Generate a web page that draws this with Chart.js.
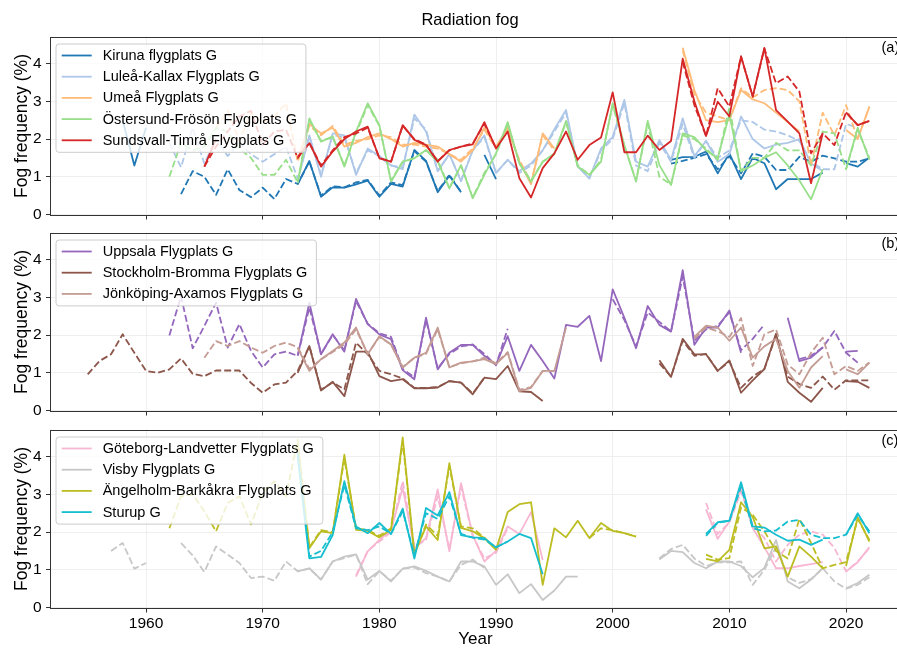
<!DOCTYPE html>
<html>
<head>
<meta charset="utf-8">
<title>Radiation fog</title>
<script src="https://cdn.jsdelivr.net/npm/chart.js@4.4.1/dist/chart.umd.min.js"></script>
<style>
  html, body { margin: 0; padding: 0; background: #fff; overflow: hidden; }
  #wrap { position: relative; width: 897px; height: 651px; overflow: hidden; }
  #wrap canvas { position: absolute; left: 0; }
</style>
</head>
<body>
<div id="wrap">
  <canvas id="fogA" width="905" height="221" style="top:0px"></canvas>
  <canvas id="fogB" width="905" height="200" style="top:217px"></canvas>
  <canvas id="fogC" width="905" height="237" style="top:414px"></canvas>
</div>
<script>
// axis ticks
const yearTicks = [1960, 1970, 1980, 1990, 2000, 2010, 2020];
const fogTicks = [0, 1, 2, 3, 4];

// each station: runs of [first year, yearly values]; solid and dashed series
// --- northern stations (a)
const kiruna = [
  [1958, [2.5, 1.3, 2.3]],
  [1973, [0.8, 1.42, 0.47, 0.72, 0.71, 0.8, 0.9, 0.47, 0.81, 0.74, 1.71, 1.42, 0.59, 1.03, 0.59]],
  [1989, [1.58, 0.94]],
  [2005, [1.45, 1.52, 1.53, 1.67, 1.09, 1.62, 0.94, 1.5, 1.36, 0.67, 0.94, 0.94, 0.94, 1.11]],
  [2020, [1.36, 1.27, 1.51]]
];
const kirunaDash = [
  [1963, [0.54, 1.15, 1.0, 0.52, 1.2, 0.65, 0.46, 0.71, 0.41, 0.94, 0.81, 1.4, 0.5, 0.75, 0.72, 0.85, 0.92, 0.5, 0.85, 0.78, 1.68, 1.4, 0.62, 1.05, 0.6]],
  [2005, [1.35, 1.42, 1.5, 1.6, 1.2, 1.55, 1.09, 1.62, 1.53, 1.18, 1.18, 1.53, 1.4, 1.56, 1.49, 1.4, 1.4, 1.49]]
];
const lulea = [
  [1973, [0.9, 2.1, 1.0, 2.15, 2.1, 1.05, 1.75, 1.55, 1.3, 1.2, 2.65, 2.2, 1.15, 1.6, 0.88, 1.7, 2.1,
          1.1, 1.45, 1.15, 1.35, 1.7, 2.26, 2.77, 1.27, 0.96, 1.75, 2.06, 3.04, 1.4, 1.27, 1.97, 1.45, 2.55,
          1.55, 1.95, 1.4, 1.6, 2.6, 2.0, 1.75, 1.85, 1.9, 2.0, 1.35, 1.15]]
];
const luleaDash = [
  [1962, [1.9, 1.25, 2.3, 1.35, 2.0, 1.55, 1.9, 1.6, 1.4, 1.6, 1.8,
          0.95, 2.05, 1.05, 2.1, 2.05, 1.1, 1.7, 1.55, 1.3, 1.25, 2.55, 2.25, 1.15, 1.6, 0.9, 1.7, 2.05,
          1.1, 1.45, 1.1, 1.3, 1.7, 2.2, 2.7, 1.3, 0.95, 1.7, 2.0, 2.95, 1.3, 1.15, 1.9, 1.4, 2.4,
          1.5, 1.95, 1.5, 1.7, 2.5, 2.45, 2.25, 2.2, 2.1, 1.95, 1.4, 1.2, 1.2, 2.4, 2.3]]
];
const umea = [
  [1973, [1.45, 2.4, 2.15, 2.3, 1.8, 1.9, 2.05, 2.15, 2.0, 1.8, 1.9, 1.85, 1.8, 1.6, 1.4, 1.7, 2.3,
          1.8, 2.3, 1.4, 0.8, 2.15, 1.75]],
  [2006, [4.42, 3.3, 2.5, 2.45, 2.5, 3.3, 3.05, 2.95, 2.7, 2.45, 2.2]],
  [2020, [2.24, 2.0, 2.86]]
];
const umeaDash = [
  [1966, [2.3, 2.75, 1.95, 2.7, 2.45, 2.6, 2.95,
          1.4, 2.35, 2.1, 2.35, 1.85, 1.95, 2.0, 2.1, 2.05, 1.85, 1.85, 1.8, 1.75, 1.6, 1.45, 1.75, 2.25,
          1.75, 2.25, 1.45, 0.85, 2.1, 1.7]],
  [2006, [4.35, 3.2, 2.7, 2.6, 2.5, 3.35, 3.1, 3.3, 3.35, 3.3, 3.0, 1.3, 2.7, 2.1, 2.9, 2.0, 2.86]]
];
const ostersund = [
  [1973, [0.83, 2.55, 1.93, 2.07, 1.27, 2.2, 2.95, 2.37, 0.87, 1.4, 1.49, 1.71, 1.4, 0.69, 1.31, 0.43, 1.05,
          1.62, 2.45, 1.35, 0.87, 1.4, 1.62, 2.48, 1.27, 1.05, 1.4, 2.95, 1.84, 0.87, 2.48, 1.31, 0.78, 2.15,
          2.05, 1.7, 1.5, 2.65, 1.15, 1.3, 1.5, 1.65, 1.3, 0.9, 0.4, 1.2]],
  [2020, [1.2, 2.3, 1.45]]
];
const ostersundDash = [
  [1962, [1.0, 1.9, 1.7, 1.8, 2.3, 2.2, 1.75, 1.5, 1.05, 1.05, 1.45,
          0.85, 2.5, 1.95, 2.05, 1.3, 2.15, 2.9, 2.35, 0.9, 1.4, 1.5, 1.7, 1.45, 0.7, 1.3, 0.45, 1.1,
          1.6, 2.4, 1.35, 0.9, 1.4, 1.6, 2.45, 1.3, 1.05, 1.45, 2.9, 1.8, 0.9, 2.4, 1.0, 0.8, 2.1,
          2.0, 1.75, 1.45, 2.85, 1.15, 1.5, 1.5, 1.9, 1.7, 1.7, 1.3, 2.2, 2.15, 1.2, 2.25, 1.5]]
];
const sundsvall = [
  [1965, [1.27, 2.0]],
  [1973, [1.53, 1.89, 1.27, 1.67, 2.0, 2.2, 2.33, 1.49, 1.4, 2.37, 1.98, 1.84, 1.4, 1.71, 1.8, 1.86, 2.45,
          1.75, 2.2, 0.96, 0.45, 1.23, 1.62, 2.2, 1.45, 1.84, 2.04, 3.24, 1.65, 1.65, 2.09, 1.71, 1.95, 4.13,
          3.0, 2.08, 2.99, 2.6, 4.19, 3.13, 4.42, 2.77, 2.46, 2.15, 0.83, 2.15]],
  [2020, [2.71, 2.37, 2.48]]
];
const sundsvallDash = [
  [1965, [1.27, 1.8, 2.2, 2.6, 2.75, 1.85, 2.2, 2.25,
          1.5, 1.9, 1.3, 1.7, 2.05, 2.15, 2.3, 1.5, 1.4, 2.35, 2.0, 1.85, 1.42, 1.7, 1.8, 1.88, 2.4, 1.75]],
  [2006, [4.05, 2.9, 2.08, 3.35, 2.86, 4.19, 3.13, 4.4, 3.48, 3.66, 3.26, 1.62, 2.15, 1.84, 2.71, 2.37, 2.48]]
];

// --- central stations (b)
const uppsala = [
  [1973, [1.45, 2.86, 1.49, 2.02, 1.56, 2.96, 2.29, 2.02, 1.89, 1.07, 0.83, 2.46, 1.09, 1.53, 1.74, 1.74, 1.45,
          1.21, 1.97, 1.05, 1.74, 1.31, 0.85, 2.27, 2.22, 2.51, 1.31, 3.21, 2.46, 1.65, 2.77, 2.27, 2.09, 3.72,
          1.74, 2.2, 2.2, 2.65, 1.53]],
  [2015, [2.46, 1.31, 1.4, 1.67]],
  [2020, [1.56, 1.58]]
];
const uppsalaDash = [
  [1962, [1.99, 3.03, 1.65, 2.24, 2.86, 1.67, 2.29, 1.58, 1.14, 1.49, 1.56,
          1.45, 2.73, 1.5, 2.0, 1.6, 2.9, 2.3, 2.05, 1.95, 1.1, 0.88, 2.4, 1.12, 1.5, 1.7, 1.75, 1.5,
          1.2, 2.17]],
  [2000, [2.95, 2.4, 1.7, 2.6, 2.35, 2.1, 3.55, 1.85, 2.15, 2.25, 2.6, 1.6, 1.9, 2.28]],
  [2016, [1.36, 1.45, 1.67, 2.11, 1.53, 1.27]]
];
const bromma = [
  [1973, [1.0, 1.71, 0.53, 0.76, 0.38, 1.56, 1.56, 0.91, 0.78, 0.83, 0.59, 0.59, 0.61, 0.78, 0.74, 0.43, 0.87,
          0.83, 1.18, 0.51, 0.49, 0.25]],
  [2004, [1.33, 0.89, 1.9, 1.49, 1.49, 1.05, 1.33, 0.47, 0.8, 1.1, 2.04, 0.76, 0.47, 0.23, 0.6]],
  [2020, [0.78, 0.76, 0.6]]
];
const brommaDash = [
  [1955, [0.96, 1.31, 1.49, 2.02, 1.53, 1.05, 1.0, 1.09, 1.38, 0.97, 0.91, 1.06, 1.06, 1.06, 0.73, 0.47, 0.69, 0.74,
          1.05, 1.71, 0.55, 0.74, 0.56, 1.8, 1.49, 1.05, 0.96, 0.85, 0.6, 0.6, 0.62, 0.78, 0.74, 0.45, 0.87]],
  [2004, [1.25, 0.9, 1.85, 1.45, 1.5, 1.05, 1.3, 0.6, 0.9, 1.1, 2.0, 0.9, 0.7, 0.6, 0.9, 0.55, 0.8, 0.8, 0.8]]
];
const jonkoping = [
  [1973, [1.65, 1.05, 1.36, 1.58, 1.8, 2.2, 1.49, 1.97, 1.75, 1.14, 1.4, 1.53, 2.2, 1.14, 1.27, 1.3, 1.36,
          1.23, 1.53, 0.51, 0.6, 1.05, 1.05, 2.2]],
  [2007, [1.95, 2.25, 2.2, 1.85, 2.2, 1.4, 1.7, 1.9, 1.05, 0.6, 1.14, 1.44]],
  [2020, [1.09, 0.96, 1.27]]
];
const jonkopingDash = [
  [1965, [1.4, 1.84, 1.71, 1.84, 1.67, 1.53, 1.71, 1.8,
          1.68, 1.1, 1.36, 1.55, 1.75, 2.15, 1.5, 1.95, 1.75, 1.15, 1.4, 1.5, 2.15, 1.15, 1.25, 1.3, 1.4,
          1.25, 1.55, 0.55, 0.62, 1.05, 1.05]],
  [2007, [1.9, 2.2, 2.1, 1.95, 2.45, 1.18, 2.02, 2.15, 1.22, 0.96, 1.53, 1.93, 0.96, 1.18, 1.05, 1.27]]
];

// --- southern stations (c)
const goteborg = [
  [1978, [0.82, 1.49, 1.79, 2.06, 3.17, 1.57, 1.84, 3.13, 1.49, 3.3, 1.92, 1.22, 1.5, 2.15, 1.95, 2.53, 1.26]],
  [2008, [2.6, 1.82, 2.28, 3.17, 2.1, 1.6, 1.04, 1.04, 1.1, 1.15, 1.2]],
  [2020, [0.95, 1.2, 1.6]]
];
const goteborgDash = [
  [1978, [0.85, 1.5, 1.75, 2.0, 3.35, 1.6, 1.8, 2.95, 1.55, 3.2, 1.9, 1.3, 1.45, 2.1]],
  [2008, [2.77, 1.95, 2.25, 3.07, 2.19, 1.84, 1.22, 1.66, 1.93, 2.02, 1.93, 1.58, 0.96, 1.22, 1.58]]
];
const visby = [
  [1973, [0.96, 1.04, 0.74, 1.22, 1.35, 1.41, 0.74, 0.97, 0.69, 1.03, 1.09, 0.97, 0.82, 0.69, 1.22, 1.22, 1.09,
          0.6, 0.88, 0.38, 0.62, 0.2, 0.45, 0.82, 0.82]],
  [2004, [1.27, 1.5, 1.47, 1.18, 1.04, 1.22, 1.22, 1.1, 0.8, 1.05, 1.79, 0.69, 0.51, 0.74, 1.04]],
  [2020, [0.51, 0.65, 0.87]]
];
const visbyDash = [
  [1957, [1.5, 1.71, 1.03, 1.18]],
  [1963, [1.71, 1.38, 0.94, 1.62, 1.4, 1.18, 0.78, 0.82, 0.71, 1.22,
          0.96, 1.03, 0.74, 1.22, 1.31, 1.4, 0.62, 0.96, 0.71, 1.03, 1.06, 0.91, 0.82, 0.69, 1.13, 1.27, 1.05]],
  [2004, [1.3, 1.55, 1.66, 1.3, 1.1, 1.2, 1.2, 1.22, 0.6, 1.0, 1.6, 0.8, 0.65, 0.75, 1.04, 0.69, 0.5, 0.6, 0.8]]
];
const angelholm = [
  [1973, [4.32, 1.57, 2.02, 1.97, 4.05, 2.06, 2.03, 1.86, 2.06, 4.51, 1.41, 2.15, 1.79, 3.83, 2.11, 2.02, 1.84,
          1.53, 2.53, 2.74, 2.79, 0.6, 2.1, 1.86, 2.3, 1.84, 2.24, 2.03, 1.97, 1.88]],
  [2008, [1.29, 1.22, 1.53, 2.79, 2.4, 1.57, 1.62, 0.82, 1.62, 1.35, 1.04]],
  [2020, [1.1, 2.39, 1.75]]
];
const angelholmDash = [
  [1962, [2.1, 2.95, 3.0, 2.55, 2.02, 2.77, 2.95, 2.2, 3.04, 3.35, 2.95,
          4.45, 1.6, 2.05, 2.0, 3.95, 2.1, 2.05, 1.9, 2.1, 4.4, 1.45, 2.2, 1.9, 3.75, 2.15, 2.1, 1.85, 1.55]],
  [1998, [1.84, 2.1, 2.05, 1.97, 1.88]],
  [2008, [1.4, 1.27, 1.31, 2.65, 2.46, 2.02, 1.5, 1.3, 2.35, 1.71, 1.04, 1.13, 1.2, 2.35, 1.79]]
];
const sturup = [
  [1973, [4.0, 1.3, 1.34, 1.92, 3.35, 2.15, 1.97, 2.24, 1.95, 2.62, 1.3, 2.64, 2.44, 3.06, 1.92, 1.86, 1.84,
          1.59, 1.75, 1.95, 1.84, 0.88]],
  [2008, [1.95, 2.26, 2.3, 3.32, 2.15, 2.12, 1.93, 1.77, 1.8, 1.66, 1.8]],
  [2020, [1.93, 2.5, 1.97]]
];
const sturupDash = [
  [1973, [4.1, 1.35, 1.5, 2.0, 3.25, 2.1, 2.05, 2.15, 1.95, 2.55, 1.4, 2.5, 2.35, 2.95, 1.95, 1.85, 1.8, 1.6, 1.75]],
  [2008, [1.9, 2.25, 2.3, 3.2, 2.1, 2.02, 2.04, 2.28, 2.32, 1.93, 1.84, 1.84, 1.93, 2.45, 2.02]]
];

const namesA = ['Kiruna flygplats G', 'Luleå-Kallax Flygplats G', 'Umeå Flygplats G',
                'Östersund-Frösön Flygplats G', 'Sundsvall-Timrå Flygplats G'];
const colorsA = ['#1f77b4', '#aec7e8', '#ffbb78', '#98df8a', '#d62728'];
const namesB = ['Uppsala Flygplats G', 'Stockholm-Bromma Flygplats G', 'Jönköping-Axamos Flygplats G'];
const colorsB = ['#9467bd', '#8c564b', '#c49c94'];
const namesC = ['Göteborg-Landvetter Flygplats G', 'Visby Flygplats G',
                'Ängelholm-Barkåkra Flygplats G', 'Sturup G'];
const colorsC = ['#f7b6d2', '#c7c7c7', '#bcbd22', '#17becf'];

const FONT = '"Liberation Sans", Arial, Helvetica, sans-serif';
const X_MIN = 1951.77, X_MAX = 2024.71;
const Y_MIN = -0.027, Y_MAX = 4.72;

// turn year runs into points, with a null between runs so the line breaks
function toPoints(runs) {
  const pts = [];
  runs.forEach(([start, vals]) => {
    vals.forEach((v, i) => pts.push({ x: start + i, y: v }));
    pts.push({ x: start + vals.length - 0.5, y: null });
  });
  return pts;
}

// frame, legend box, panel letter and (for the top panel) the title
function panelDecor(tag, names, colors, title) {
  return {
    id: 'panelDecor',
    afterDatasetsDraw(chart) {
      const { ctx, chartArea: a } = chart;
      ctx.save();

      ctx.strokeStyle = '#333';
      ctx.lineWidth = 1;
      ctx.strokeRect(Math.round(a.left) + 0.5, Math.round(a.top) + 0.5,
                     Math.round(a.right - a.left), Math.round(a.bottom - a.top) - 1);

      ctx.fillStyle = '#000';
      ctx.textBaseline = 'middle';
      ctx.font = '14.5px ' + FONT;
      ctx.textAlign = 'left';
      ctx.fillText(tag, 881.5, a.top + 11);

      if (title) {
        ctx.font = '16.5px ' + FONT;
        ctx.textAlign = 'center';
        ctx.fillText(title, 470, 20);
      }

      // legend
      ctx.font = '14.5px ' + FONT;
      ctx.textAlign = 'left';
      const bx = a.left + 6, by = a.top + 7.5;
      const textW = Math.max(...names.map(n => ctx.measureText(n).width));
      const bw = 46.7 + textW + 9;
      const bh = 23.5 + 21.2 * (names.length - 1);
      ctx.beginPath();
      ctx.roundRect(bx, by, bw, bh, 3);
      ctx.fillStyle = 'rgba(255,255,255,0.8)';
      ctx.fill();
      ctx.strokeStyle = '#cccccc';
      ctx.lineWidth = 1;
      ctx.stroke();
      names.forEach((n, i) => {
        const cy = by + 11.5 + i * 21.2;
        ctx.beginPath();
        ctx.moveTo(bx + 5.7, cy);
        ctx.lineTo(bx + 35.7, cy);
        ctx.strokeStyle = colors[i];
        ctx.lineWidth = 1.8;
        ctx.stroke();
        ctx.fillStyle = '#000';
        ctx.fillText(n, bx + 46.7, cy + 0.5);
      });
      ctx.restore();
    }
  };
}

function makePanel(id, cfg) {
  const datasets = [];
  cfg.solid.forEach((runs, i) => {
    datasets.push({
      data: toPoints(runs), borderColor: cfg.colors[i], borderWidth: 1.8,
      pointRadius: 0, tension: 0, borderJoinStyle: 'round'
    });
    datasets.push({
      data: toPoints(cfg.dashed[i]), borderColor: cfg.colors[i], borderWidth: 1.8,
      borderDash: [7, 3], pointRadius: 0, tension: 0, borderJoinStyle: 'round'
    });
  });
  // later series sit on top
  datasets.forEach((d, k) => { d.order = -k; });

  const gridStyle = { color: '#ebebeb', lineWidth: 0.8, drawTicks: true, tickLength: 4, tickColor: '#333', tickWidth: 1 };

  new Chart(document.getElementById(id), {
    type: 'line',
    data: { datasets },
    options: {
      responsive: false,
      animation: false,
      events: [],
      layout: { padding: { top: cfg.top, right: 4, left: 0, bottom: 0 }, autoPadding: false },
      plugins: { legend: { display: false }, tooltip: { enabled: false } },
      scales: {
        x: {
          type: 'linear', min: X_MIN, max: X_MAX,
          afterBuildTicks: s => { s.ticks = yearTicks.map(v => ({ value: v })); },
          ticks: {
            display: cfg.showYears, color: '#000', font: { family: FONT, size: 15.5 },
            padding: 1.5, maxRotation: 0, autoSkip: false, callback: v => String(v)
          },
          grid: gridStyle,
          border: { display: false },
          title: {
            display: cfg.showYears, text: 'Year', color: '#000',
            font: { family: FONT, size: 17 }, padding: { top: 0, bottom: 1 }
          },
          afterFit: s => { s.height = cfg.xHeight; s.paddingLeft = 0; s.paddingRight = 0; }
        },
        y: {
          type: 'linear', min: Y_MIN, max: Y_MAX,
          afterBuildTicks: s => { s.ticks = fogTicks.map(v => ({ value: v })); },
          ticks: { color: '#000', font: { family: FONT, size: 15.5 }, padding: 4.5, callback: v => String(v) },
          grid: gridStyle,
          border: { display: false },
          title: {
            display: true, text: 'Fog frequency (%)', color: '#000',
            font: { family: FONT, size: 17.5 }, padding: { top: 11.5, bottom: 0 }
          },
          afterFit: s => { s.width = 50; s.paddingTop = 0; s.paddingBottom = 0; }
        }
      }
    },
    plugins: [panelDecor(cfg.tag, cfg.names, cfg.colors, cfg.title)]
  });
}

makePanel('fogA', {
  tag: '(a)', title: 'Radiation fog', names: namesA, colors: colorsA,
  solid: [kiruna, lulea, umea, ostersund, sundsvall],
  dashed: [kirunaDash, luleaDash, umeaDash, ostersundDash, sundsvallDash],
  top: 36.5, xHeight: 5.5, showYears: false
});
makePanel('fogB', {
  tag: '(b)', names: namesB, colors: colorsB,
  solid: [uppsala, bromma, jonkoping],
  dashed: [uppsalaDash, brommaDash, jonkopingDash],
  top: 15.5, xHeight: 5.5, showYears: false
});
makePanel('fogC', {
  tag: '(c)', names: namesC, colors: colorsC,
  solid: [goteborg, visby, angelholm, sturup],
  dashed: [goteborgDash, visbyDash, angelholmDash, sturupDash],
  top: 15.5, xHeight: 42.5, showYears: true
});
</script>
</body>
</html>
